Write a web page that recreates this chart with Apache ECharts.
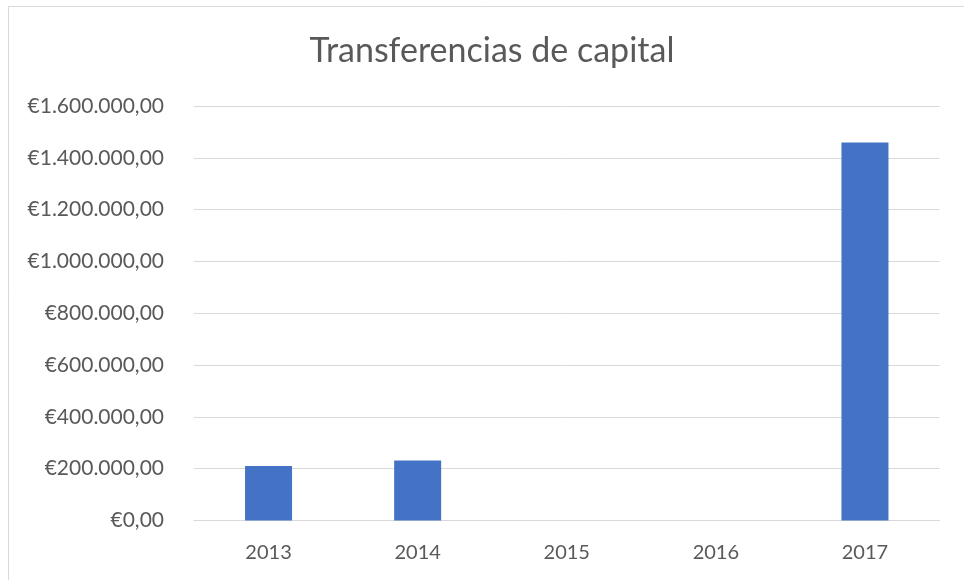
<!DOCTYPE html>
<html>
<head>
<meta charset="utf-8">
<script src="https://cdn.jsdelivr.net/npm/echarts@6/dist/echarts.min.js"></script>
<style>
  html, body { margin: 0; padding: 0; background: #ffffff; }
  #chart { width: 964px; height: 580px; }
</style>
</head>
<body>
<div id="chart"></div>
<script>
// Capital transfers per year (euros)
const years = ['2013', '2014', '2015', '2016', '2017'];
const transfers = [210000, 232000, 0, 0, 1459000];

// Value axis range and step
const axisMin = 0;
const axisMax = 1600000;
const axisStep = 200000;

const textColor = '#595959';
const fontFamily = 'Lato, "Open Sans", sans-serif';

// Spanish-style currency: thousands with ".", decimals with ","
function euro(v) {
  const parts = Math.round(v).toString().replace(/\B(?=(\d{3})+(?!\d))/g, '.');
  return '€' + parts + ',00';
}

const chart = echarts.init(document.getElementById('chart'), null, { renderer: 'canvas' });

chart.setOption({
  backgroundColor: '#ffffff',
  animation: false,
  title: {
    text: 'Transferencias de capital',
    left: 487,
    textAlign: 'center',
    top: 29,
    textStyle: {
      color: textColor,
      fontFamily: fontFamily,
      fontWeight: 'normal',
      fontSize: 34
    }
  },
  graphic: [{
    type: 'rect',
    shape: { x: 8.5, y: 6.5, width: 1000, height: 1000 },
    style: { fill: 'none', stroke: '#d9d9d9', lineWidth: 1 },
    silent: true
  }],
  grid: {
    left: 194,
    right: 24.5,
    top: 106,
    bottom: 59.5,
    containLabel: false
  },
  xAxis: {
    type: 'category',
    data: years,
    axisLine: { show: true, lineStyle: { color: '#d9d9d9', width: 1 } },
    axisTick: { show: false },
    axisLabel: {
      color: textColor,
      fontFamily: fontFamily,
      fontSize: 20,
      margin: 22
    }
  },
  yAxis: {
    type: 'value',
    min: axisMin,
    max: axisMax,
    interval: axisStep,
    axisLine: { show: false },
    axisTick: { show: false },
    splitLine: { lineStyle: { color: '#d9d9d9', width: 1 } },
    axisLabel: {
      color: textColor,
      fontFamily: fontFamily,
      fontSize: 21,
      margin: 30,
      formatter: euro
    }
  },
  series: [{
    type: 'bar',
    data: transfers,
    barWidth: 47,
    itemStyle: { color: '#4472C4' }
  }]
});
</script>
</body>
</html>
